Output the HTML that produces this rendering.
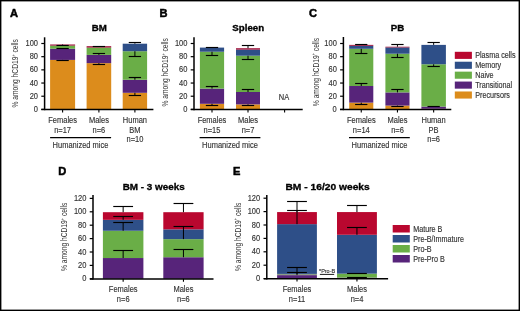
<!DOCTYPE html>
<html><head><meta charset="utf-8"><style>
html,body{margin:0;padding:0;background:#fff;}
body{width:520px;height:311px;overflow:hidden;position:relative;}
svg{position:absolute;left:0;top:0;font-family:"Liberation Sans",sans-serif;will-change:transform;filter:blur(0.3px);}
.frame{position:absolute;left:0;top:0;width:520px;height:311px;box-sizing:border-box;border:1.9px solid #000;}
</style></head><body>
<svg width="520" height="311" viewBox="0 0 520 311">
<text x="10.00" y="17.20" font-size="11.1" font-weight="bold" fill="#000" stroke="#000" stroke-width="0.5">A</text>
<text transform="translate(99.20,30.90) scale(1.08,1)" font-size="9" text-anchor="middle" font-weight="bold" fill="#000" stroke="#000" stroke-width="0.3">BM</text>
<rect x="50.10" y="59.91" width="25.00" height="49.49" fill="#DC8C1C"/>
<rect x="50.10" y="48.71" width="25.00" height="11.20" fill="#57247A"/>
<rect x="50.10" y="45.61" width="25.00" height="3.10" fill="#6AAE47"/>
<rect x="50.10" y="44.49" width="25.00" height="1.12" fill="#9C0A33"/>
<rect x="86.60" y="63.14" width="24.60" height="46.26" fill="#DC8C1C"/>
<rect x="86.60" y="54.90" width="24.60" height="8.24" fill="#57247A"/>
<rect x="86.60" y="47.59" width="24.60" height="7.31" fill="#6AAE47"/>
<rect x="86.60" y="46.20" width="24.60" height="1.38" fill="#9C0A33"/>
<rect x="122.70" y="92.79" width="24.40" height="16.61" fill="#DC8C1C"/>
<rect x="122.70" y="79.75" width="24.40" height="13.05" fill="#57247A"/>
<rect x="122.70" y="51.21" width="24.40" height="28.53" fill="#6AAE47"/>
<rect x="122.70" y="43.70" width="24.40" height="7.51" fill="#2E4F88"/>
<line x1="62.60" y1="44.49" x2="62.60" y2="45.08" stroke="#000" stroke-width="1.0"/>
<line x1="56.45" y1="45.50" x2="68.75" y2="45.50" stroke="#000" stroke-width="1.15"/>
<line x1="62.60" y1="48.71" x2="62.60" y2="48.51" stroke="#000" stroke-width="1.0"/>
<line x1="56.45" y1="48.50" x2="68.75" y2="48.50" stroke="#000" stroke-width="1.15"/>
<line x1="62.60" y1="59.91" x2="62.60" y2="60.70" stroke="#000" stroke-width="1.0"/>
<line x1="56.45" y1="60.50" x2="68.75" y2="60.50" stroke="#000" stroke-width="1.15"/>
<line x1="98.90" y1="46.20" x2="98.90" y2="46.53" stroke="#000" stroke-width="1.0"/>
<line x1="92.75" y1="46.50" x2="105.05" y2="46.50" stroke="#000" stroke-width="1.15"/>
<line x1="98.90" y1="54.90" x2="98.90" y2="53.39" stroke="#000" stroke-width="1.0"/>
<line x1="92.75" y1="53.50" x2="105.05" y2="53.50" stroke="#000" stroke-width="1.15"/>
<line x1="98.90" y1="63.14" x2="98.90" y2="64.26" stroke="#000" stroke-width="1.0"/>
<line x1="92.75" y1="64.50" x2="105.05" y2="64.50" stroke="#000" stroke-width="1.15"/>
<line x1="134.90" y1="43.70" x2="134.90" y2="42.31" stroke="#000" stroke-width="1.0"/>
<line x1="128.75" y1="42.50" x2="141.05" y2="42.50" stroke="#000" stroke-width="1.15"/>
<line x1="134.90" y1="51.21" x2="134.90" y2="56.22" stroke="#000" stroke-width="1.0"/>
<line x1="128.75" y1="56.50" x2="141.05" y2="56.50" stroke="#000" stroke-width="1.15"/>
<line x1="134.90" y1="79.75" x2="134.90" y2="77.77" stroke="#000" stroke-width="1.0"/>
<line x1="128.75" y1="77.50" x2="141.05" y2="77.50" stroke="#000" stroke-width="1.15"/>
<line x1="134.90" y1="92.79" x2="134.90" y2="95.96" stroke="#000" stroke-width="1.0"/>
<line x1="128.75" y1="95.50" x2="141.05" y2="95.50" stroke="#000" stroke-width="1.15"/>
<line x1="44.60" y1="37.30" x2="44.60" y2="110.20" stroke="#000" stroke-width="1.5"/>
<line x1="41.30" y1="109.60" x2="153.40" y2="109.60" stroke="#000" stroke-width="1.5"/>
<line x1="41.30" y1="109.40" x2="44.60" y2="109.40" stroke="#000" stroke-width="1.2"/>
<text transform="translate(38.00,112.00) scale(0.88,1)" font-size="8.52" text-anchor="end" fill="#333" stroke="#333" stroke-width="0.15">0</text>
<line x1="41.30" y1="96.22" x2="44.60" y2="96.22" stroke="#000" stroke-width="1.2"/>
<text transform="translate(38.00,98.82) scale(0.88,1)" font-size="8.52" text-anchor="end" fill="#333" stroke="#333" stroke-width="0.15">20</text>
<line x1="41.30" y1="83.04" x2="44.60" y2="83.04" stroke="#000" stroke-width="1.2"/>
<text transform="translate(38.00,85.64) scale(0.88,1)" font-size="8.52" text-anchor="end" fill="#333" stroke="#333" stroke-width="0.15">40</text>
<line x1="41.30" y1="69.86" x2="44.60" y2="69.86" stroke="#000" stroke-width="1.2"/>
<text transform="translate(38.00,72.46) scale(0.88,1)" font-size="8.52" text-anchor="end" fill="#333" stroke="#333" stroke-width="0.15">60</text>
<line x1="41.30" y1="56.68" x2="44.60" y2="56.68" stroke="#000" stroke-width="1.2"/>
<text transform="translate(38.00,59.28) scale(0.88,1)" font-size="8.52" text-anchor="end" fill="#333" stroke="#333" stroke-width="0.15">80</text>
<line x1="41.30" y1="43.50" x2="44.60" y2="43.50" stroke="#000" stroke-width="1.2"/>
<text transform="translate(38.00,46.10) scale(0.88,1)" font-size="8.52" text-anchor="end" fill="#333" stroke="#333" stroke-width="0.15">100</text>
<line x1="62.60" y1="109.40" x2="62.60" y2="112.40" stroke="#000" stroke-width="1.1"/>
<line x1="98.90" y1="109.40" x2="98.90" y2="112.40" stroke="#000" stroke-width="1.1"/>
<line x1="134.90" y1="109.40" x2="134.90" y2="112.40" stroke="#000" stroke-width="1.1"/>
<text transform="translate(18.10,73.30) rotate(-90) scale(0.7,1)" font-size="9.55" text-anchor="middle" fill="#333">% among hCD19<tspan font-size="5.5" dy="-3.4">+</tspan><tspan dy="3.4"> cells</tspan></text>
<text transform="translate(62.60,122.90) scale(0.88,1)" font-size="8.52" text-anchor="middle" fill="#333" stroke="#333" stroke-width="0.15">Females</text>
<text transform="translate(62.60,132.70) scale(0.88,1)" font-size="8.52" text-anchor="middle" fill="#333" stroke="#333" stroke-width="0.15">n=17</text>
<text transform="translate(98.90,122.90) scale(0.88,1)" font-size="8.52" text-anchor="middle" fill="#333" stroke="#333" stroke-width="0.15">Males</text>
<text transform="translate(98.90,132.70) scale(0.88,1)" font-size="8.52" text-anchor="middle" fill="#333" stroke="#333" stroke-width="0.15">n=6</text>
<text transform="translate(134.90,122.90) scale(0.88,1)" font-size="8.52" text-anchor="middle" fill="#333" stroke="#333" stroke-width="0.15">Human</text>
<text transform="translate(134.90,132.70) scale(0.88,1)" font-size="8.52" text-anchor="middle" fill="#333" stroke="#333" stroke-width="0.15">BM</text>
<text transform="translate(134.90,142.40) scale(0.88,1)" font-size="8.52" text-anchor="middle" fill="#333" stroke="#333" stroke-width="0.15">n=10</text>
<line x1="50.10" y1="137.60" x2="111.10" y2="137.60" stroke="#000" stroke-width="1.3"/>
<text transform="translate(80.50,147.70) scale(0.88,1)" font-size="8.52" text-anchor="middle" fill="#333" stroke="#333" stroke-width="0.15">Humanized mice</text>
<text x="159.60" y="17.20" font-size="11.1" font-weight="bold" fill="#000" stroke="#000" stroke-width="0.5">B</text>
<text transform="translate(248.20,30.90) scale(1.08,1)" font-size="9" text-anchor="middle" font-weight="bold" fill="#000" stroke="#000" stroke-width="0.3">Spleen</text>
<rect x="199.90" y="103.80" width="24.20" height="5.60" fill="#DC8C1C"/>
<rect x="199.90" y="88.58" width="24.20" height="15.22" fill="#57247A"/>
<rect x="199.90" y="51.74" width="24.20" height="36.84" fill="#6AAE47"/>
<rect x="199.90" y="47.59" width="24.20" height="4.15" fill="#2E4F88"/>
<rect x="236.00" y="104.39" width="24.00" height="5.01" fill="#DC8C1C"/>
<rect x="236.00" y="92.00" width="24.00" height="12.39" fill="#57247A"/>
<rect x="236.00" y="55.69" width="24.00" height="36.31" fill="#6AAE47"/>
<rect x="236.00" y="49.63" width="24.00" height="6.06" fill="#2E4F88"/>
<rect x="236.00" y="48.24" width="24.00" height="1.38" fill="#9C0A33"/>
<line x1="212.00" y1="47.59" x2="212.00" y2="47.12" stroke="#000" stroke-width="1.0"/>
<line x1="205.85" y1="47.50" x2="218.15" y2="47.50" stroke="#000" stroke-width="1.15"/>
<line x1="212.00" y1="51.74" x2="212.00" y2="55.10" stroke="#000" stroke-width="1.0"/>
<line x1="205.85" y1="55.50" x2="218.15" y2="55.50" stroke="#000" stroke-width="1.15"/>
<line x1="212.00" y1="88.58" x2="212.00" y2="86.34" stroke="#000" stroke-width="1.0"/>
<line x1="205.85" y1="86.50" x2="218.15" y2="86.50" stroke="#000" stroke-width="1.15"/>
<line x1="212.00" y1="103.80" x2="212.00" y2="105.18" stroke="#000" stroke-width="1.0"/>
<line x1="205.85" y1="105.50" x2="218.15" y2="105.50" stroke="#000" stroke-width="1.15"/>
<line x1="248.00" y1="48.24" x2="248.00" y2="45.81" stroke="#000" stroke-width="1.0"/>
<line x1="241.85" y1="45.50" x2="254.15" y2="45.50" stroke="#000" stroke-width="1.15"/>
<line x1="248.00" y1="55.69" x2="248.00" y2="59.84" stroke="#000" stroke-width="1.0"/>
<line x1="241.85" y1="59.50" x2="254.15" y2="59.50" stroke="#000" stroke-width="1.15"/>
<line x1="248.00" y1="92.00" x2="248.00" y2="89.23" stroke="#000" stroke-width="1.0"/>
<line x1="241.85" y1="89.50" x2="254.15" y2="89.50" stroke="#000" stroke-width="1.15"/>
<line x1="248.00" y1="104.39" x2="248.00" y2="105.78" stroke="#000" stroke-width="1.0"/>
<line x1="241.85" y1="105.50" x2="254.15" y2="105.50" stroke="#000" stroke-width="1.15"/>
<line x1="194.00" y1="37.30" x2="194.00" y2="110.20" stroke="#000" stroke-width="1.5"/>
<line x1="190.80" y1="109.60" x2="302.70" y2="109.60" stroke="#000" stroke-width="1.5"/>
<line x1="190.70" y1="109.40" x2="194.00" y2="109.40" stroke="#000" stroke-width="1.2"/>
<text transform="translate(187.40,112.00) scale(0.88,1)" font-size="8.52" text-anchor="end" fill="#333" stroke="#333" stroke-width="0.15">0</text>
<line x1="190.70" y1="96.22" x2="194.00" y2="96.22" stroke="#000" stroke-width="1.2"/>
<text transform="translate(187.40,98.82) scale(0.88,1)" font-size="8.52" text-anchor="end" fill="#333" stroke="#333" stroke-width="0.15">20</text>
<line x1="190.70" y1="83.04" x2="194.00" y2="83.04" stroke="#000" stroke-width="1.2"/>
<text transform="translate(187.40,85.64) scale(0.88,1)" font-size="8.52" text-anchor="end" fill="#333" stroke="#333" stroke-width="0.15">40</text>
<line x1="190.70" y1="69.86" x2="194.00" y2="69.86" stroke="#000" stroke-width="1.2"/>
<text transform="translate(187.40,72.46) scale(0.88,1)" font-size="8.52" text-anchor="end" fill="#333" stroke="#333" stroke-width="0.15">60</text>
<line x1="190.70" y1="56.68" x2="194.00" y2="56.68" stroke="#000" stroke-width="1.2"/>
<text transform="translate(187.40,59.28) scale(0.88,1)" font-size="8.52" text-anchor="end" fill="#333" stroke="#333" stroke-width="0.15">80</text>
<line x1="190.70" y1="43.50" x2="194.00" y2="43.50" stroke="#000" stroke-width="1.2"/>
<text transform="translate(187.40,46.10) scale(0.88,1)" font-size="8.52" text-anchor="end" fill="#333" stroke="#333" stroke-width="0.15">100</text>
<line x1="212.00" y1="109.40" x2="212.00" y2="112.40" stroke="#000" stroke-width="1.1"/>
<line x1="248.00" y1="109.40" x2="248.00" y2="112.40" stroke="#000" stroke-width="1.1"/>
<text transform="translate(168.30,72.30) rotate(-90) scale(0.7,1)" font-size="9.55" text-anchor="middle" fill="#333">% among hCD19<tspan font-size="5.5" dy="-3.4">+</tspan><tspan dy="3.4"> cells</tspan></text>
<text transform="translate(284.00,99.80) scale(0.88,1)" font-size="8.52" text-anchor="middle" fill="#333" stroke="#333" stroke-width="0.15">NA</text>
<line x1="284.60" y1="109.40" x2="284.60" y2="112.40" stroke="#000" stroke-width="1.1"/>
<text transform="translate(212.00,122.90) scale(0.88,1)" font-size="8.52" text-anchor="middle" fill="#333" stroke="#333" stroke-width="0.15">Females</text>
<text transform="translate(212.00,132.70) scale(0.88,1)" font-size="8.52" text-anchor="middle" fill="#333" stroke="#333" stroke-width="0.15">n=15</text>
<text transform="translate(248.00,122.90) scale(0.88,1)" font-size="8.52" text-anchor="middle" fill="#333" stroke="#333" stroke-width="0.15">Males</text>
<text transform="translate(248.00,132.70) scale(0.88,1)" font-size="8.52" text-anchor="middle" fill="#333" stroke="#333" stroke-width="0.15">n=7</text>
<line x1="199.60" y1="137.60" x2="260.40" y2="137.60" stroke="#000" stroke-width="1.3"/>
<text transform="translate(230.00,147.70) scale(0.88,1)" font-size="8.52" text-anchor="middle" fill="#333" stroke="#333" stroke-width="0.15">Humanized mice</text>
<text x="308.90" y="17.20" font-size="11.1" font-weight="bold" fill="#000" stroke="#000" stroke-width="0.5">C</text>
<text transform="translate(397.60,30.90) scale(1.08,1)" font-size="9" text-anchor="middle" font-weight="bold" fill="#000" stroke="#000" stroke-width="0.3">PB</text>
<rect x="349.20" y="102.61" width="24.10" height="6.79" fill="#DC8C1C"/>
<rect x="349.20" y="86.01" width="24.10" height="16.61" fill="#57247A"/>
<rect x="349.20" y="48.77" width="24.10" height="37.23" fill="#6AAE47"/>
<rect x="349.20" y="45.81" width="24.10" height="2.97" fill="#2E4F88"/>
<rect x="349.20" y="44.88" width="24.10" height="0.92" fill="#9C0A33"/>
<rect x="385.40" y="105.58" width="24.10" height="3.82" fill="#DC8C1C"/>
<rect x="385.40" y="92.40" width="24.10" height="13.18" fill="#57247A"/>
<rect x="385.40" y="53.71" width="24.10" height="38.68" fill="#6AAE47"/>
<rect x="385.40" y="47.45" width="24.10" height="6.26" fill="#2E4F88"/>
<rect x="385.40" y="46.73" width="24.10" height="0.72" fill="#9C0A33"/>
<rect x="421.40" y="108.74" width="24.50" height="0.66" fill="#DC8C1C"/>
<rect x="421.40" y="106.57" width="24.50" height="2.17" fill="#57247A"/>
<rect x="421.40" y="64.26" width="24.50" height="42.31" fill="#6AAE47"/>
<rect x="421.40" y="44.88" width="24.50" height="19.37" fill="#2E4F88"/>
<line x1="361.25" y1="44.88" x2="361.25" y2="44.03" stroke="#000" stroke-width="1.0"/>
<line x1="355.10" y1="44.50" x2="367.40" y2="44.50" stroke="#000" stroke-width="1.15"/>
<line x1="361.25" y1="48.77" x2="361.25" y2="53.06" stroke="#000" stroke-width="1.0"/>
<line x1="355.10" y1="53.50" x2="367.40" y2="53.50" stroke="#000" stroke-width="1.15"/>
<line x1="361.25" y1="86.01" x2="361.25" y2="83.96" stroke="#000" stroke-width="1.0"/>
<line x1="355.10" y1="83.50" x2="367.40" y2="83.50" stroke="#000" stroke-width="1.15"/>
<line x1="361.25" y1="102.61" x2="361.25" y2="104.98" stroke="#000" stroke-width="1.0"/>
<line x1="355.10" y1="104.50" x2="367.40" y2="104.50" stroke="#000" stroke-width="1.15"/>
<line x1="397.45" y1="46.73" x2="397.45" y2="44.82" stroke="#000" stroke-width="1.0"/>
<line x1="391.30" y1="44.50" x2="403.60" y2="44.50" stroke="#000" stroke-width="1.15"/>
<line x1="397.45" y1="53.71" x2="397.45" y2="57.47" stroke="#000" stroke-width="1.0"/>
<line x1="391.30" y1="57.50" x2="403.60" y2="57.50" stroke="#000" stroke-width="1.15"/>
<line x1="397.45" y1="92.40" x2="397.45" y2="89.96" stroke="#000" stroke-width="1.0"/>
<line x1="391.30" y1="89.50" x2="403.60" y2="89.50" stroke="#000" stroke-width="1.15"/>
<line x1="397.45" y1="105.58" x2="397.45" y2="106.17" stroke="#000" stroke-width="1.0"/>
<line x1="391.30" y1="106.50" x2="403.60" y2="106.50" stroke="#000" stroke-width="1.15"/>
<line x1="433.65" y1="44.88" x2="433.65" y2="42.84" stroke="#000" stroke-width="1.0"/>
<line x1="427.50" y1="42.50" x2="439.80" y2="42.50" stroke="#000" stroke-width="1.15"/>
<line x1="433.65" y1="64.26" x2="433.65" y2="66.56" stroke="#000" stroke-width="1.0"/>
<line x1="427.50" y1="66.50" x2="439.80" y2="66.50" stroke="#000" stroke-width="1.15"/>
<line x1="433.65" y1="106.57" x2="433.65" y2="106.37" stroke="#000" stroke-width="1.0"/>
<line x1="427.50" y1="106.50" x2="439.80" y2="106.50" stroke="#000" stroke-width="1.15"/>
<line x1="343.40" y1="37.00" x2="343.40" y2="110.20" stroke="#000" stroke-width="1.5"/>
<line x1="340.00" y1="109.60" x2="451.30" y2="109.60" stroke="#000" stroke-width="1.5"/>
<line x1="340.10" y1="109.40" x2="343.40" y2="109.40" stroke="#000" stroke-width="1.2"/>
<text transform="translate(336.80,112.00) scale(0.88,1)" font-size="8.52" text-anchor="end" fill="#333" stroke="#333" stroke-width="0.15">0</text>
<line x1="340.10" y1="96.22" x2="343.40" y2="96.22" stroke="#000" stroke-width="1.2"/>
<text transform="translate(336.80,98.82) scale(0.88,1)" font-size="8.52" text-anchor="end" fill="#333" stroke="#333" stroke-width="0.15">20</text>
<line x1="340.10" y1="83.04" x2="343.40" y2="83.04" stroke="#000" stroke-width="1.2"/>
<text transform="translate(336.80,85.64) scale(0.88,1)" font-size="8.52" text-anchor="end" fill="#333" stroke="#333" stroke-width="0.15">40</text>
<line x1="340.10" y1="69.86" x2="343.40" y2="69.86" stroke="#000" stroke-width="1.2"/>
<text transform="translate(336.80,72.46) scale(0.88,1)" font-size="8.52" text-anchor="end" fill="#333" stroke="#333" stroke-width="0.15">60</text>
<line x1="340.10" y1="56.68" x2="343.40" y2="56.68" stroke="#000" stroke-width="1.2"/>
<text transform="translate(336.80,59.28) scale(0.88,1)" font-size="8.52" text-anchor="end" fill="#333" stroke="#333" stroke-width="0.15">80</text>
<line x1="340.10" y1="43.50" x2="343.40" y2="43.50" stroke="#000" stroke-width="1.2"/>
<text transform="translate(336.80,46.10) scale(0.88,1)" font-size="8.52" text-anchor="end" fill="#333" stroke="#333" stroke-width="0.15">100</text>
<line x1="361.25" y1="109.40" x2="361.25" y2="112.40" stroke="#000" stroke-width="1.1"/>
<line x1="397.45" y1="109.40" x2="397.45" y2="112.40" stroke="#000" stroke-width="1.1"/>
<line x1="433.65" y1="109.40" x2="433.65" y2="112.40" stroke="#000" stroke-width="1.1"/>
<text transform="translate(318.50,72.00) rotate(-90) scale(0.7,1)" font-size="9.55" text-anchor="middle" fill="#333">% among hCD19<tspan font-size="5.5" dy="-3.4">+</tspan><tspan dy="3.4"> cells</tspan></text>
<text transform="translate(361.30,122.90) scale(0.88,1)" font-size="8.52" text-anchor="middle" fill="#333" stroke="#333" stroke-width="0.15">Females</text>
<text transform="translate(361.30,132.70) scale(0.88,1)" font-size="8.52" text-anchor="middle" fill="#333" stroke="#333" stroke-width="0.15">n=14</text>
<text transform="translate(397.50,122.90) scale(0.88,1)" font-size="8.52" text-anchor="middle" fill="#333" stroke="#333" stroke-width="0.15">Males</text>
<text transform="translate(397.50,132.70) scale(0.88,1)" font-size="8.52" text-anchor="middle" fill="#333" stroke="#333" stroke-width="0.15">n=6</text>
<text transform="translate(433.60,122.90) scale(0.88,1)" font-size="8.52" text-anchor="middle" fill="#333" stroke="#333" stroke-width="0.15">Human</text>
<text transform="translate(433.60,132.70) scale(0.88,1)" font-size="8.52" text-anchor="middle" fill="#333" stroke="#333" stroke-width="0.15">PB</text>
<text transform="translate(433.60,142.40) scale(0.88,1)" font-size="8.52" text-anchor="middle" fill="#333" stroke="#333" stroke-width="0.15">n=6</text>
<line x1="349.00" y1="137.60" x2="409.80" y2="137.60" stroke="#000" stroke-width="1.3"/>
<text transform="translate(379.50,147.70) scale(0.88,1)" font-size="8.52" text-anchor="middle" fill="#333" stroke="#333" stroke-width="0.15">Humanized mice</text>
<rect x="454.80" y="51.80" width="17.10" height="7.10" fill="#B9072F"/>
<text transform="translate(475.20,58.30) scale(0.88,1)" font-size="8.18" text-anchor="start" fill="#333" stroke="#333" stroke-width="0.15">Plasma cells</text>
<rect x="454.80" y="61.72" width="17.10" height="7.10" fill="#2E4F88"/>
<text transform="translate(475.20,68.22) scale(0.88,1)" font-size="8.18" text-anchor="start" fill="#333" stroke="#333" stroke-width="0.15">Memory</text>
<rect x="454.80" y="71.64" width="17.10" height="7.10" fill="#6AAE47"/>
<text transform="translate(475.20,78.14) scale(0.88,1)" font-size="8.18" text-anchor="start" fill="#333" stroke="#333" stroke-width="0.15">Naive</text>
<rect x="454.80" y="81.56" width="17.10" height="7.10" fill="#57247A"/>
<text transform="translate(475.20,88.06) scale(0.88,1)" font-size="8.18" text-anchor="start" fill="#333" stroke="#333" stroke-width="0.15">Transitional</text>
<rect x="454.80" y="91.48" width="17.10" height="7.10" fill="#DC8C1C"/>
<text transform="translate(475.20,97.98) scale(0.88,1)" font-size="8.18" text-anchor="start" fill="#333" stroke="#333" stroke-width="0.15">Precursors</text>
<text x="58.20" y="174.80" font-size="11.1" font-weight="bold" fill="#000" stroke="#000" stroke-width="0.5">D</text>
<text transform="translate(153.70,189.60) scale(1.1,1)" font-size="9" text-anchor="middle" font-weight="bold" fill="#000" stroke="#000" stroke-width="0.3">BM - 3 weeks</text>
<rect x="102.90" y="258.03" width="40.50" height="20.77" fill="#57247A"/>
<rect x="102.90" y="230.76" width="40.50" height="27.27" fill="#6AAE47"/>
<rect x="102.90" y="219.84" width="40.50" height="10.92" fill="#2E4F88"/>
<rect x="102.90" y="212.20" width="40.50" height="7.64" fill="#B9072F"/>
<rect x="163.30" y="257.23" width="40.30" height="21.57" fill="#57247A"/>
<rect x="163.30" y="239.14" width="40.30" height="18.09" fill="#6AAE47"/>
<rect x="163.30" y="229.35" width="40.30" height="9.78" fill="#2E4F88"/>
<rect x="163.30" y="212.20" width="40.30" height="17.15" fill="#B9072F"/>
<line x1="123.15" y1="212.20" x2="123.15" y2="206.78" stroke="#000" stroke-width="1.0"/>
<line x1="113.25" y1="206.50" x2="133.05" y2="206.50" stroke="#000" stroke-width="1.15"/>
<line x1="123.15" y1="219.84" x2="123.15" y2="216.89" stroke="#000" stroke-width="1.0"/>
<line x1="113.25" y1="216.50" x2="133.05" y2="216.50" stroke="#000" stroke-width="1.15"/>
<line x1="123.15" y1="230.76" x2="123.15" y2="222.79" stroke="#000" stroke-width="1.0"/>
<line x1="113.25" y1="222.50" x2="133.05" y2="222.50" stroke="#000" stroke-width="1.15"/>
<line x1="123.15" y1="258.03" x2="123.15" y2="250.79" stroke="#000" stroke-width="1.0"/>
<line x1="113.25" y1="250.50" x2="133.05" y2="250.50" stroke="#000" stroke-width="1.15"/>
<line x1="183.45" y1="212.20" x2="183.45" y2="203.56" stroke="#000" stroke-width="1.0"/>
<line x1="173.55" y1="203.50" x2="193.35" y2="203.50" stroke="#000" stroke-width="1.15"/>
<line x1="183.45" y1="239.14" x2="183.45" y2="226.14" stroke="#000" stroke-width="1.0"/>
<line x1="173.55" y1="226.50" x2="193.35" y2="226.50" stroke="#000" stroke-width="1.15"/>
<line x1="183.45" y1="257.23" x2="183.45" y2="249.19" stroke="#000" stroke-width="1.0"/>
<line x1="173.55" y1="249.50" x2="193.35" y2="249.50" stroke="#000" stroke-width="1.15"/>
<line x1="93.00" y1="195.00" x2="93.00" y2="279.60" stroke="#000" stroke-width="1.5"/>
<line x1="89.90" y1="279.00" x2="213.50" y2="279.00" stroke="#000" stroke-width="1.5"/>
<line x1="89.70" y1="278.80" x2="93.00" y2="278.80" stroke="#000" stroke-width="1.2"/>
<text transform="translate(86.40,281.40) scale(0.88,1)" font-size="8.52" text-anchor="end" fill="#333" stroke="#333" stroke-width="0.15">0</text>
<line x1="89.70" y1="265.40" x2="93.00" y2="265.40" stroke="#000" stroke-width="1.2"/>
<text transform="translate(86.40,268.00) scale(0.88,1)" font-size="8.52" text-anchor="end" fill="#333" stroke="#333" stroke-width="0.15">20</text>
<line x1="89.70" y1="252.00" x2="93.00" y2="252.00" stroke="#000" stroke-width="1.2"/>
<text transform="translate(86.40,254.60) scale(0.88,1)" font-size="8.52" text-anchor="end" fill="#333" stroke="#333" stroke-width="0.15">40</text>
<line x1="89.70" y1="238.60" x2="93.00" y2="238.60" stroke="#000" stroke-width="1.2"/>
<text transform="translate(86.40,241.20) scale(0.88,1)" font-size="8.52" text-anchor="end" fill="#333" stroke="#333" stroke-width="0.15">60</text>
<line x1="89.70" y1="225.20" x2="93.00" y2="225.20" stroke="#000" stroke-width="1.2"/>
<text transform="translate(86.40,227.80) scale(0.88,1)" font-size="8.52" text-anchor="end" fill="#333" stroke="#333" stroke-width="0.15">80</text>
<line x1="89.70" y1="211.80" x2="93.00" y2="211.80" stroke="#000" stroke-width="1.2"/>
<text transform="translate(86.40,214.40) scale(0.88,1)" font-size="8.52" text-anchor="end" fill="#333" stroke="#333" stroke-width="0.15">100</text>
<line x1="89.70" y1="198.40" x2="93.00" y2="198.40" stroke="#000" stroke-width="1.2"/>
<text transform="translate(86.40,201.00) scale(0.88,1)" font-size="8.52" text-anchor="end" fill="#333" stroke="#333" stroke-width="0.15">120</text>
<line x1="123.15" y1="278.80" x2="123.15" y2="281.80" stroke="#000" stroke-width="1.1"/>
<line x1="183.45" y1="278.80" x2="183.45" y2="281.80" stroke="#000" stroke-width="1.1"/>
<text transform="translate(67.20,236.90) rotate(-90) scale(0.7,1)" font-size="9.55" text-anchor="middle" fill="#333">% among hCD19<tspan font-size="5.5" dy="-3.4">+</tspan><tspan dy="3.4"> cells</tspan></text>
<text transform="translate(123.20,292.30) scale(0.88,1)" font-size="8.52" text-anchor="middle" fill="#333" stroke="#333" stroke-width="0.15">Females</text>
<text transform="translate(123.20,302.10) scale(0.88,1)" font-size="8.52" text-anchor="middle" fill="#333" stroke="#333" stroke-width="0.15">n=6</text>
<text transform="translate(183.40,292.30) scale(0.88,1)" font-size="8.52" text-anchor="middle" fill="#333" stroke="#333" stroke-width="0.15">Males</text>
<text transform="translate(183.40,302.10) scale(0.88,1)" font-size="8.52" text-anchor="middle" fill="#333" stroke="#333" stroke-width="0.15">n=6</text>
<text x="233.00" y="174.80" font-size="11.1" font-weight="bold" fill="#000" stroke="#000" stroke-width="0.5">E</text>
<text transform="translate(327.60,189.60) scale(1.14,1)" font-size="9" text-anchor="middle" font-weight="bold" fill="#000" stroke="#000" stroke-width="0.3">BM - 16/20 weeks</text>
<rect x="277.10" y="275.12" width="39.80" height="3.48" fill="#57247A"/>
<rect x="277.10" y="273.91" width="39.80" height="1.21" fill="#8c9f86"/>
<rect x="277.10" y="224.13" width="39.80" height="49.78" fill="#2E4F88"/>
<rect x="277.10" y="212.07" width="39.80" height="12.06" fill="#B9072F"/>
<rect x="337.00" y="277.60" width="39.90" height="1.01" fill="#57247A"/>
<rect x="337.00" y="273.64" width="39.90" height="3.95" fill="#6AAE47"/>
<rect x="337.00" y="234.78" width="39.90" height="38.86" fill="#2E4F88"/>
<rect x="337.00" y="212.07" width="39.90" height="22.71" fill="#B9072F"/>
<line x1="297.00" y1="212.07" x2="297.00" y2="201.75" stroke="#000" stroke-width="1.0"/>
<line x1="287.10" y1="201.50" x2="306.90" y2="201.50" stroke="#000" stroke-width="1.15"/>
<line x1="297.00" y1="224.13" x2="297.00" y2="210.60" stroke="#000" stroke-width="1.0"/>
<line x1="287.10" y1="210.50" x2="306.90" y2="210.50" stroke="#000" stroke-width="1.15"/>
<line x1="297.00" y1="273.91" x2="297.00" y2="267.48" stroke="#000" stroke-width="1.0"/>
<line x1="287.10" y1="267.50" x2="306.90" y2="267.50" stroke="#000" stroke-width="1.15"/>
<line x1="297.00" y1="275.12" x2="297.00" y2="272.17" stroke="#000" stroke-width="1.0"/>
<line x1="287.10" y1="272.50" x2="306.90" y2="272.50" stroke="#000" stroke-width="1.15"/>
<line x1="356.95" y1="212.07" x2="356.95" y2="205.97" stroke="#000" stroke-width="1.0"/>
<line x1="347.05" y1="205.50" x2="366.85" y2="205.50" stroke="#000" stroke-width="1.15"/>
<line x1="356.95" y1="234.78" x2="356.95" y2="227.41" stroke="#000" stroke-width="1.0"/>
<line x1="347.05" y1="227.50" x2="366.85" y2="227.50" stroke="#000" stroke-width="1.15"/>
<line x1="356.95" y1="273.64" x2="356.95" y2="273.37" stroke="#000" stroke-width="1.0"/>
<line x1="347.05" y1="273.50" x2="366.85" y2="273.50" stroke="#000" stroke-width="1.15"/>
<line x1="356.95" y1="277.60" x2="356.95" y2="277.80" stroke="#000" stroke-width="1.0"/>
<line x1="347.05" y1="277.50" x2="366.85" y2="277.50" stroke="#000" stroke-width="1.15"/>
<line x1="266.80" y1="195.10" x2="266.80" y2="279.40" stroke="#000" stroke-width="1.5"/>
<line x1="263.80" y1="278.80" x2="388.10" y2="278.80" stroke="#000" stroke-width="1.5"/>
<line x1="263.50" y1="278.60" x2="266.80" y2="278.60" stroke="#000" stroke-width="1.2"/>
<text transform="translate(260.20,281.20) scale(0.88,1)" font-size="8.52" text-anchor="end" fill="#333" stroke="#333" stroke-width="0.15">0</text>
<line x1="263.50" y1="265.20" x2="266.80" y2="265.20" stroke="#000" stroke-width="1.2"/>
<text transform="translate(260.20,267.80) scale(0.88,1)" font-size="8.52" text-anchor="end" fill="#333" stroke="#333" stroke-width="0.15">20</text>
<line x1="263.50" y1="251.80" x2="266.80" y2="251.80" stroke="#000" stroke-width="1.2"/>
<text transform="translate(260.20,254.40) scale(0.88,1)" font-size="8.52" text-anchor="end" fill="#333" stroke="#333" stroke-width="0.15">40</text>
<line x1="263.50" y1="238.40" x2="266.80" y2="238.40" stroke="#000" stroke-width="1.2"/>
<text transform="translate(260.20,241.00) scale(0.88,1)" font-size="8.52" text-anchor="end" fill="#333" stroke="#333" stroke-width="0.15">60</text>
<line x1="263.50" y1="225.00" x2="266.80" y2="225.00" stroke="#000" stroke-width="1.2"/>
<text transform="translate(260.20,227.60) scale(0.88,1)" font-size="8.52" text-anchor="end" fill="#333" stroke="#333" stroke-width="0.15">80</text>
<line x1="263.50" y1="211.60" x2="266.80" y2="211.60" stroke="#000" stroke-width="1.2"/>
<text transform="translate(260.20,214.20) scale(0.88,1)" font-size="8.52" text-anchor="end" fill="#333" stroke="#333" stroke-width="0.15">100</text>
<line x1="263.50" y1="198.20" x2="266.80" y2="198.20" stroke="#000" stroke-width="1.2"/>
<text transform="translate(260.20,200.80) scale(0.88,1)" font-size="8.52" text-anchor="end" fill="#333" stroke="#333" stroke-width="0.15">120</text>
<line x1="297.00" y1="278.60" x2="297.00" y2="281.60" stroke="#000" stroke-width="1.1"/>
<line x1="356.95" y1="278.60" x2="356.95" y2="281.60" stroke="#000" stroke-width="1.1"/>
<text transform="translate(240.80,236.90) rotate(-90) scale(0.7,1)" font-size="9.55" text-anchor="middle" fill="#333">% among hCD19<tspan font-size="5.5" dy="-3.4">+</tspan><tspan dy="3.4"> cells</tspan></text>
<text transform="translate(319.00,273.20) scale(0.88,1)" font-size="6.25" text-anchor="start" fill="#333" stroke="#333" stroke-width="0.15">*Pro-B</text>
<line x1="319.90" y1="274.40" x2="334.20" y2="274.40" stroke="#000" stroke-width="0.9"/>
<text transform="translate(297.00,292.30) scale(0.88,1)" font-size="8.52" text-anchor="middle" fill="#333" stroke="#333" stroke-width="0.15">Females</text>
<text transform="translate(297.00,302.10) scale(0.88,1)" font-size="8.52" text-anchor="middle" fill="#333" stroke="#333" stroke-width="0.15">n=11</text>
<text transform="translate(357.00,292.30) scale(0.88,1)" font-size="8.52" text-anchor="middle" fill="#333" stroke="#333" stroke-width="0.15">Males</text>
<text transform="translate(357.00,302.10) scale(0.88,1)" font-size="8.52" text-anchor="middle" fill="#333" stroke="#333" stroke-width="0.15">n=4</text>
<rect x="392.70" y="225.00" width="17.10" height="7.50" fill="#B9072F"/>
<text transform="translate(413.20,231.70) scale(0.88,1)" font-size="8.18" text-anchor="start" fill="#333" stroke="#333" stroke-width="0.15">Mature B</text>
<rect x="392.70" y="235.00" width="17.10" height="7.50" fill="#2E4F88"/>
<text transform="translate(413.20,241.70) scale(0.88,1)" font-size="8.18" text-anchor="start" fill="#333" stroke="#333" stroke-width="0.15">Pre-B/Immature</text>
<rect x="392.70" y="245.00" width="17.10" height="7.50" fill="#6AAE47"/>
<text transform="translate(413.20,251.70) scale(0.88,1)" font-size="8.18" text-anchor="start" fill="#333" stroke="#333" stroke-width="0.15">Pro-B</text>
<rect x="392.70" y="255.00" width="17.10" height="7.50" fill="#57247A"/>
<text transform="translate(413.20,261.70) scale(0.88,1)" font-size="8.18" text-anchor="start" fill="#333" stroke="#333" stroke-width="0.15">Pre-Pro B</text>
</svg>
<svg class="fr" width="520" height="311" viewBox="0 0 520 311" style="position:absolute;left:0;top:0;filter:none"><rect x="0.7" y="0.7" width="518.6" height="309.6" fill="none" stroke="#000" stroke-width="1.4"/></svg>
</body></html>
